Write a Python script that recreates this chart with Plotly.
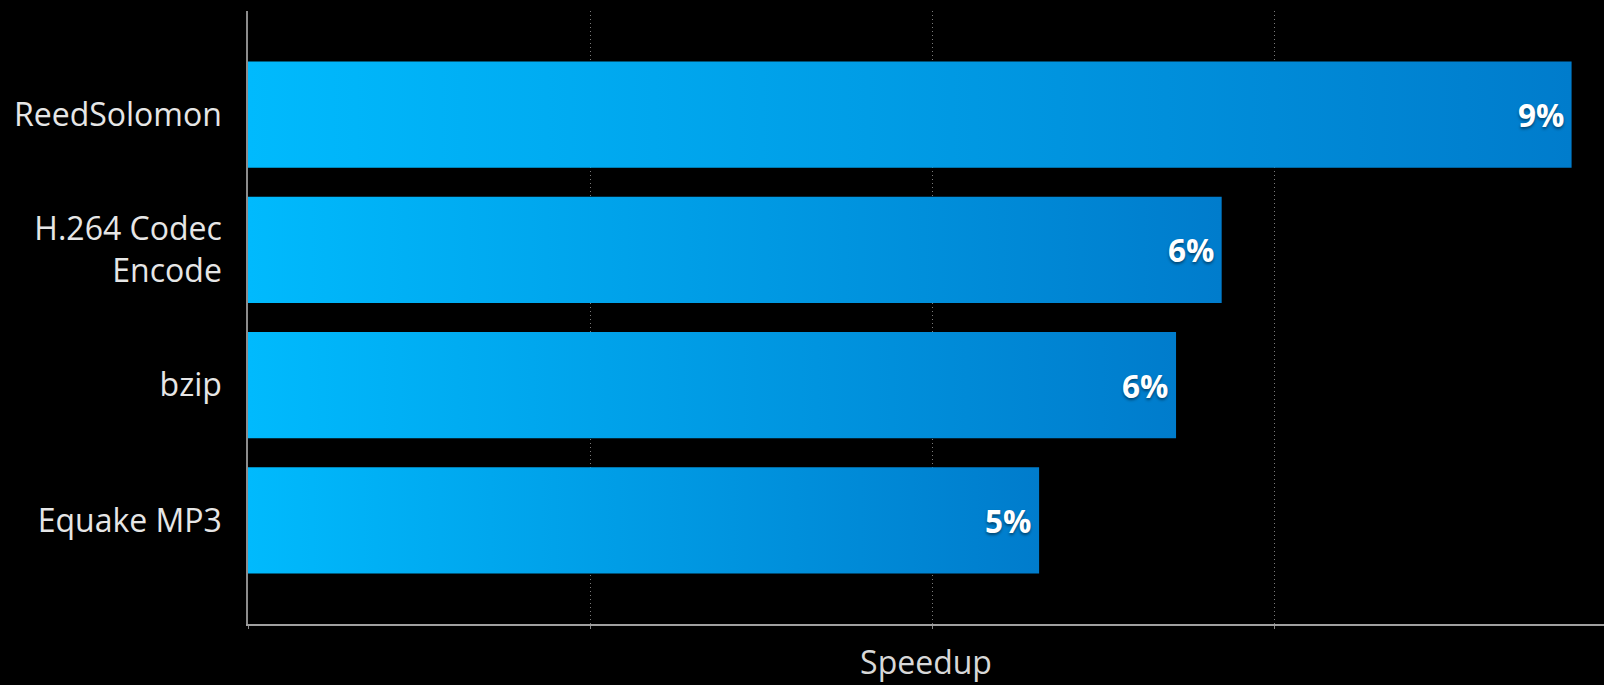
import plotly.graph_objects as go

# Benchmarks and their speedup (percent)
benchmarks = ["ReedSolomon", "H.264 Codec<br>Encode", "bzip", "Equake MP3"]
speedup = [8.7, 6.4, 6.1, 5.2]

grid_step = 2.25
x_max = 8.913
bar_half = 0.3935

label_font = "Open Sans, Noto Sans, sans-serif"

fig = go.Figure()

# Each bar is a filled rectangle with a left-to-right blue gradient
for i, (name, v) in enumerate(zip(benchmarks, speedup)):
    fig.add_trace(go.Scatter(
        x=[0, v, v, 0, 0],
        y=[i - bar_half, i - bar_half, i + bar_half, i + bar_half, i - bar_half],
        mode="lines",
        fill="toself",
        fillgradient=dict(type="horizontal",
                          colorscale=[[0, "#00BAFD"], [1, "#007CCC"]]),
        line=dict(width=0, color="rgba(0,0,0,0)"),
        name=name.replace("<br>", " "),
        hoverinfo="skip",
        showlegend=False,
    ))
    fig.add_annotation(
        x=v, y=i, xref="x", yref="y",
        text=f"{v:.0f}%",
        showarrow=False,
        xanchor="right", yanchor="middle",
        xshift=-6,
        font=dict(family=label_font, size=31.5, color="white", weight="bold",
                  shadow="0px 2px 3px rgba(0,0,0,0.45)"),
    )

fig.update_layout(
    width=1604, height=685,
    paper_bgcolor="black", plot_bgcolor="black",
    margin=dict(l=248, r=0, t=11, b=61),
    showlegend=False,
    font=dict(family=label_font, color="#e6e6e6"),
)

fig.update_xaxes(
    range=[0, x_max],
    dtick=grid_step, tick0=0,
    showgrid=True, gridcolor="#7a7a7a", gridwidth=1, griddash="1px,3px",
    zeroline=False,
    showline=True, linecolor="#a0a0a0", linewidth=2,
    ticks="outside", ticklen=3, tickcolor="#888888", tickwidth=1,
    showticklabels=False,
    title=dict(text="Speedup", font=dict(size=32, color="#d8d8d8"), standoff=24),
)

fig.update_yaxes(
    range=[len(benchmarks) - 1 + 0.766, -0.766],
    tickvals=list(range(len(benchmarks))),
    ticktext=benchmarks,
    showgrid=False, zeroline=False,
    showline=True, linecolor="#8c8c8c", linewidth=1.5,
    ticks="", ticklabelstandoff=18,
    tickfont=dict(size=32, color="#e6e6e6"),
)

fig.write_html("out.html")
